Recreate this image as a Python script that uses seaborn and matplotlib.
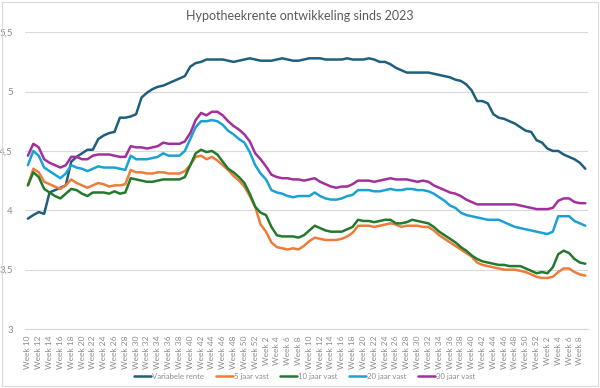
import numpy as np
import pandas as pd
import matplotlib
matplotlib.use("Agg")
import matplotlib.pyplot as plt
import seaborn as sns
from matplotlib.patches import Rectangle

sns.set_style("white")
plt.rcParams["font.family"] = ["Lato", "DejaVu Sans"]

# ---------------------------------------------------------
# data: week 10 2023 .. week 9 2025 (104 weeks)
# ---------------------------------------------------------
weeks = list(range(10, 53)) + list(range(1, 53)) + list(range(1, 10))
week_labels = [f"Week {w}" for w in weeks]

variabele = [
    3.93, 3.96, 3.985, 3.97, 4.15, 4.17, 4.19, 4.21, 4.41, 4.45,
    4.48, 4.51, 4.51, 4.60, 4.63, 4.65, 4.66, 4.78, 4.78, 4.79,
    4.81, 4.95, 4.99, 5.02, 5.04, 5.05, 5.07, 5.09, 5.11, 5.13,
    5.21, 5.24, 5.25, 5.27, 5.27, 5.27, 5.27, 5.26, 5.25, 5.26,
    5.27, 5.28, 5.27, 5.26, 5.26, 5.26, 5.27, 5.28, 5.27, 5.26,
    5.26, 5.27, 5.28, 5.28, 5.28, 5.27, 5.27, 5.27, 5.27, 5.28,
    5.27, 5.27, 5.27, 5.28, 5.27, 5.25, 5.25, 5.23, 5.20, 5.18,
    5.16, 5.16, 5.16, 5.16, 5.16, 5.15, 5.14, 5.13, 5.12, 5.10,
    5.09, 5.06, 5.01, 4.92, 4.92, 4.90, 4.81, 4.78, 4.77, 4.75,
    4.73, 4.70, 4.67, 4.66, 4.59, 4.57, 4.52, 4.50, 4.50, 4.47,
    4.45, 4.43, 4.40, 4.35,
]

vast_5 = [
    4.21, 4.35, 4.32, 4.24, 4.22, 4.20, 4.18, 4.21, 4.26, 4.23,
    4.21, 4.19, 4.21, 4.23, 4.22, 4.20, 4.21, 4.21, 4.22, 4.34,
    4.32, 4.32, 4.31, 4.31, 4.32, 4.32, 4.31, 4.31, 4.31, 4.33,
    4.38, 4.45, 4.46, 4.43, 4.45, 4.42, 4.38, 4.34, 4.29, 4.25,
    4.20, 4.12, 4.03, 3.88, 3.82, 3.73, 3.69, 3.68, 3.67, 3.68,
    3.67, 3.70, 3.74, 3.77, 3.76, 3.75, 3.75, 3.75, 3.76, 3.78,
    3.81, 3.87, 3.87, 3.87, 3.86, 3.87, 3.88, 3.89, 3.88, 3.86,
    3.87, 3.87, 3.87, 3.86, 3.86, 3.83, 3.79, 3.76, 3.73, 3.70,
    3.67, 3.64, 3.61, 3.56, 3.54, 3.53, 3.52, 3.51, 3.50, 3.50,
    3.50, 3.49, 3.48, 3.46, 3.44, 3.43, 3.43, 3.44, 3.48, 3.51,
    3.51, 3.48, 3.46, 3.45,
]

vast_10 = [
    4.21, 4.32, 4.28, 4.18, 4.15, 4.12, 4.10, 4.14, 4.18, 4.17,
    4.14, 4.12, 4.15, 4.15, 4.15, 4.14, 4.16, 4.14, 4.15, 4.27,
    4.26, 4.25, 4.24, 4.24, 4.25, 4.26, 4.26, 4.26, 4.26, 4.28,
    4.38, 4.48, 4.51, 4.49, 4.50, 4.47, 4.41, 4.35, 4.32, 4.28,
    4.23, 4.14, 4.03, 3.98, 3.96, 3.86, 3.79, 3.78, 3.78, 3.78,
    3.77, 3.79, 3.83, 3.87, 3.85, 3.83, 3.82, 3.82, 3.82, 3.84,
    3.86, 3.92, 3.91, 3.91, 3.90, 3.91, 3.92, 3.92, 3.89, 3.89,
    3.90, 3.92, 3.91, 3.90, 3.89, 3.86, 3.82, 3.79, 3.76, 3.73,
    3.69, 3.66, 3.62, 3.59, 3.57, 3.56, 3.55, 3.54, 3.54, 3.53,
    3.53, 3.53, 3.51, 3.49, 3.47, 3.48, 3.47, 3.52, 3.63, 3.66,
    3.64, 3.59, 3.56, 3.55,
]

vast_20 = [
    4.38, 4.50, 4.46, 4.36, 4.33, 4.30, 4.27, 4.31, 4.38, 4.36,
    4.35, 4.33, 4.35, 4.37, 4.36, 4.36, 4.36, 4.35, 4.34, 4.46,
    4.43, 4.43, 4.43, 4.44, 4.45, 4.48, 4.46, 4.46, 4.46, 4.50,
    4.60, 4.70, 4.75, 4.75, 4.76, 4.75, 4.72, 4.67, 4.64, 4.60,
    4.57, 4.49, 4.38, 4.31, 4.26, 4.17, 4.15, 4.14, 4.12, 4.11,
    4.12, 4.12, 4.12, 4.15, 4.12, 4.10, 4.09, 4.09, 4.10, 4.12,
    4.13, 4.17, 4.17, 4.17, 4.16, 4.16, 4.17, 4.18, 4.17, 4.17,
    4.18, 4.18, 4.17, 4.17, 4.16, 4.14, 4.11, 4.08, 4.04, 4.02,
    3.98, 3.96, 3.95, 3.94, 3.93, 3.92, 3.92, 3.92, 3.90, 3.88,
    3.86, 3.85, 3.84, 3.83, 3.82, 3.81, 3.80, 3.82, 3.95, 3.95,
    3.95, 3.91, 3.89, 3.87,
]

vast_30 = [
    4.46, 4.56, 4.53, 4.43, 4.40, 4.38, 4.36, 4.38, 4.45, 4.45,
    4.43, 4.43, 4.46, 4.47, 4.47, 4.47, 4.46, 4.45, 4.45, 4.54,
    4.53, 4.53, 4.52, 4.53, 4.54, 4.57, 4.56, 4.56, 4.56, 4.58,
    4.65, 4.76, 4.82, 4.80, 4.83, 4.83, 4.80, 4.75, 4.71, 4.68,
    4.64, 4.58, 4.48, 4.43, 4.37, 4.30, 4.28, 4.27, 4.27, 4.26,
    4.26, 4.25, 4.26, 4.27, 4.24, 4.22, 4.20, 4.19, 4.20, 4.20,
    4.22, 4.25, 4.25, 4.25, 4.24, 4.25, 4.26, 4.27, 4.26, 4.26,
    4.26, 4.25, 4.24, 4.25, 4.24, 4.21, 4.19, 4.17, 4.15, 4.14,
    4.12, 4.09, 4.07, 4.05, 4.05, 4.05, 4.05, 4.05, 4.05, 4.05,
    4.05, 4.04, 4.03, 4.02, 4.01, 4.01, 4.01, 4.02, 4.08, 4.10,
    4.10, 4.07, 4.06, 4.06,
]

series_names = ["Variabele rente", "5 jaar vast", "10 jaar vast", "20 jaar vast", "30 jaar vast"]
colors = ["#1f5f7e", "#ec7d3b", "#237a2c", "#1ba1d6", "#a2309c"]

df = pd.DataFrame({
    "idx": np.arange(len(weeks)),
    series_names[0]: variabele,
    series_names[1]: vast_5,
    series_names[2]: vast_10,
    series_names[3]: vast_20,
    series_names[4]: vast_30,
})
long_df = df.melt(id_vars="idx", var_name="serie", value_name="rente")

# ---------------------------------------------------------
# figuur
# ---------------------------------------------------------
fig = plt.figure(figsize=(6, 3.88), dpi=100)
ax = fig.add_axes([0.042, 0.152, 0.938, 0.765])

sns.lineplot(data=long_df, x="idx", y="rente", hue="serie",
             hue_order=series_names, palette=colors, linewidth=1.8,
             ax=ax, legend=False)

ax.set_xlim(-0.5, len(weeks) - 0.5)
ax.set_ylim(3, 5.5)
ax.set_yticks([3, 3.5, 4, 4.5, 5, 5.5])
ax.set_yticklabels(["3", "3,5", "4", "4,5", "5", "5,5"], fontsize=7, color="#8c8c8c")
ax.yaxis.grid(True, color="#d9d9d9", linewidth=0.8)
ax.set_axisbelow(True)

tick_pos = np.arange(0, len(weeks), 2)
ax.set_xticks(tick_pos)
ax.set_xticklabels([week_labels[i] for i in tick_pos], rotation=90,
                   fontsize=6, color="#8c8c8c")
ax.tick_params(axis="both", length=0, pad=5)
ax.tick_params(axis="y", pad=9)

for side in ["left", "right", "top"]:
    ax.spines[side].set_visible(False)
ax.spines["bottom"].set_color("#d9d9d9")
ax.spines["bottom"].set_linewidth(0.8)

ax.set_xlabel("")
ax.set_ylabel("")

fig.text(0.5, 0.96, "Hypotheekrente ontwikkeling sinds 2023", ha="center",
         va="center", fontsize=9, color="#595959")

handles = [plt.Line2D([], [], color=c, linewidth=1.8) for c in colors]
fig.legend(handles, series_names, loc="center", bbox_to_anchor=(0.508, 0.03),
           ncol=5, frameon=False, fontsize=5.6, handlelength=2.2,
           handletextpad=0.1, columnspacing=1.5, labelcolor="#8c8c8c")

# rand om de grafiek
fig.patches.append(Rectangle((0.004, 0.004), 0.992, 0.992, transform=fig.transFigure,
                             fill=False, edgecolor="#d9d9d9", linewidth=0.8))

fig.savefig("out.png", dpi=100)
